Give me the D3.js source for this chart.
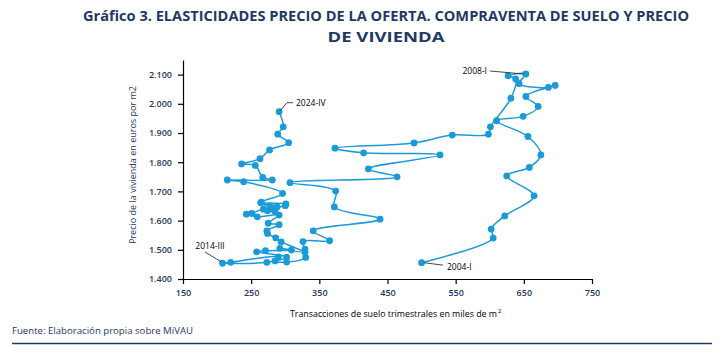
<!DOCTYPE html>
<html>
<head>
<meta charset="utf-8">
<script src="https://cdn.jsdelivr.net/npm/d3@7"></script>
<style>
  body { margin: 0; background: #fff; }
  svg { display: block; }
</style>
</head>
<body>
<div id="chart"></div>
<script>
// trimestres 2004-I ... 2024-IV
const years = d3.range(2004, 2025);
const quarterNames = ["I", "II", "III", "IV"];
const quarters = years.flatMap(y => quarterNames.map(q => `${y}-${q}`));

// transacciones de suelo trimestrales (miles de m2)
const transactions = [
    500, 605, 602, 622, 665, 625, 658, 675, 656, 610, 649, 671, 653, 696, 686, 643, // 2004-2007
    653, 627, 638, 631, 601, 598, 545, 489, 373, 415, 527, 422, 464, 307, 374, 372, // 2008-2011
    439, 341, 365, 326, 329, 330, 302, 285, 290, 220, 208, 273, 302, 258, 271, 309, // 2012-2015
    292, 329, 294, 286, 274, 273, 291, 275, 291, 259, 243, 251, 268, 285, 274, 282, // 2016-2019
    300, 288, 278, 264, 285, 301, 265, 296, 239, 215, 281, 267, 256, 236, 263, 277, // 2020-2023
    305, 289, 297, 291 // 2024
];

// precio de la vivienda (euros por m2)
const prices = [
    1456, 1540, 1571, 1616, 1685, 1753, 1782, 1825, 1888, 1942, 1957, 1991, 2025, 2063, 2056, 2069,
    2102, 2096, 2085, 2019, 1921, 1896, 1893, 1866, 1848, 1832, 1825, 1777, 1750, 1730, 1701, 1647,
    1605, 1565, 1531, 1528, 1502, 1474, 1458, 1462, 1476, 1457, 1454, 1457, 1475, 1493, 1497, 1499,
    1505, 1492, 1527, 1541, 1556, 1565, 1586, 1591, 1619, 1613, 1622, 1625, 1639, 1630, 1634, 1642,
    1651, 1647, 1650, 1661, 1643, 1657, 1663, 1693, 1733, 1739, 1739, 1748, 1789, 1794, 1812, 1842,
    1867, 1896, 1921, 1973
];

const xTicks = [150, 250, 350, 450, 550, 650, 750];
const yTicks = [1400, 1500, 1600, 1700, 1800, 1900, 2000, 2100];
const labelled = ["2004-I", "2008-I", "2014-III", "2024-IV"];

const title1 = "Gráfico 3. ELASTICIDADES PRECIO DE LA OFERTA. COMPRAVENTA DE SUELO Y PRECIO";
const title2 = "DE VIVIENDA";
const xTitle = "Transacciones de suelo trimestrales en miles de m";
const yTitle = "Precio de la vivienda en euros por m2";
const source = "Fuente: Elaboración propia sobre MiVAU";

const data = quarters.map((q, i) => ({ q, x: transactions[i], y: prices[i] }));

const navy = "#1f3864";
const blue = "#1b9ad8";
const font = "'Open Sans', 'Noto Sans', sans-serif";

const es = d3.formatLocale({ decimal: ",", thousands: ".", grouping: [3], currency: ["", " €"] });
const fmt = es.format(",d");

const svg = d3.select("#chart").append("svg")
    .attr("width", 724).attr("height", 354)
    .attr("font-family", font);

const x = d3.scaleLinear().domain([150, 750]).range([183, 592]);
const y = d3.scaleLinear().domain([1400, 2150]).range([279, 60]);

// titulo
svg.append("text").attr("x", 386).attr("y", 21).attr("text-anchor", "middle")
    .attr("font-size", 13.5).attr("font-weight", 700).attr("fill", navy)
    .attr("textLength", 606).attr("lengthAdjust", "spacingAndGlyphs")
    .text(title1);
svg.append("text").attr("x", 386).attr("y", 42).attr("text-anchor", "middle")
    .attr("font-size", 13.5).attr("font-weight", 700).attr("fill", navy)
    .attr("textLength", 117).attr("lengthAdjust", "spacingAndGlyphs")
    .text(title2);

// ejes
const gx = svg.append("g").attr("transform", `translate(0,${y(1400)})`)
    .call(d3.axisBottom(x).tickValues(xTicks).tickSize(5).tickPadding(6).tickSizeOuter(0));
const gy = svg.append("g").attr("transform", `translate(${x(150)},0)`)
    .call(d3.axisLeft(y).tickValues(yTicks).tickFormat(fmt).tickSize(5).tickPadding(6).tickSizeOuter(0));

[gx, gy].forEach(g => {
    g.select(".domain").attr("stroke", "#000").attr("stroke-width", 1.2);
    g.selectAll(".tick line").attr("stroke", "#000").attr("stroke-width", 1.2);
    g.selectAll(".tick text").attr("font-family", font).attr("font-size", 9)
        .attr("font-weight", 600).attr("fill", navy);
});

// titulos de ejes
const xt = svg.append("text").attr("x", 290).attr("y", 317)
    .attr("font-size", 9).attr("fill", "#000");
xt.append("tspan").attr("textLength", 207).attr("lengthAdjust", "spacingAndGlyphs").text(xTitle);
xt.append("tspan").attr("font-size", 6).attr("dx", 1).attr("dy", -4).text("2");

svg.append("text")
    .attr("transform", `translate(136,${165}) rotate(-90)`)
    .attr("text-anchor", "middle").attr("font-size", 9.5).attr("fill", navy)
    .attr("textLength", 158).attr("lengthAdjust", "spacingAndGlyphs")
    .text(yTitle);

// serie
const line = d3.line().x(d => x(d.x)).y(d => y(d.y)).curve(d3.curveCatmullRom.alpha(0.5));

svg.append("path").datum(data)
    .attr("fill", "none").attr("stroke", blue).attr("stroke-width", 1.5)
    .attr("d", line);

svg.append("g").selectAll("circle").data(data).join("circle")
    .attr("cx", d => x(d.x)).attr("cy", d => y(d.y)).attr("r", 3.4)
    .attr("fill", blue);

// etiquetas
const labelLayout = {
    "2004-I":   { tx: 447, ty: 270, anchor: "start", path: (px, py) => `M${px + 2},${py}L${443},${py + 2.5}` },
    "2008-I":   { tx: 487, ty: 74, anchor: "end", path: (px, py) => `M${490},${71}L${px - 2},${py}` },
    "2014-III": { tx: 210, ty: 249, anchor: "middle", path: (px, py) => `M${205},${252}L${px - 1.5},${py - 1.5}` },
    "2024-IV":  { tx: 296, ty: 106, anchor: "start", path: (px, py) => `M${px + 1},${py - 1}L${287},${py - 9}L${293},${py - 9}` }
};

labelled.forEach(q => {
    const d = data.find(e => e.q === q);
    const l = labelLayout[q];
    const px = x(d.x), py = y(d.y);
    svg.append("path").attr("d", l.path(px, py))
        .attr("fill", "none").attr("stroke", "#333").attr("stroke-width", 0.9);
    svg.append("text").attr("x", l.tx).attr("y", l.ty).attr("text-anchor", l.anchor)
        .attr("font-size", 8.5).attr("fill", "#000").text(q);
});

// fuente
svg.append("text").attr("x", 12).attr("y", 334)
    .attr("font-size", 9.5).attr("fill", navy)
    .attr("textLength", 181).attr("lengthAdjust", "spacingAndGlyphs")
    .text(source);

svg.append("line").attr("x1", 12).attr("x2", 712).attr("y1", 343.5).attr("y2", 343.5)
    .attr("stroke", navy).attr("stroke-width", 1.5);
</script>
</body>
</html>
